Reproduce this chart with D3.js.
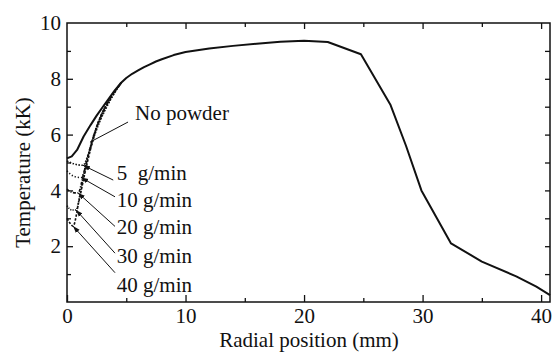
<!DOCTYPE html>
<html><head><meta charset="utf-8">
<script src="https://cdn.jsdelivr.net/npm/d3@7"></script>
<style>body{margin:0;background:#fff}svg{display:block}</style>
</head><body><svg id="c" width="552" height="352"></svg>
<script>
// ---- data ----
const noPowder = [[0,5.15],[0.4,5.22],[0.85,5.45],[1.4,5.93],[2,6.35],[2.5,6.68],[3,6.98],[3.5,7.27],[4,7.57],[4.5,7.83],[5,8.03],[5.5,8.18],[6,8.3],[6.5,8.42],[7,8.52],[7.5,8.62],[8,8.7],[9,8.85],[10,8.96],[12,9.09],[14,9.18],[16,9.26],[18,9.33],[20,9.36],[22,9.32],[24.8,8.88],[27.3,7.06],[28.6,5.6],[29.9,4.0],[32.4,2.1],[35,1.45],[37.9,0.92],[39.6,0.55],[40.75,0.25]];
const powder5  = [[0,5.05],[0.6,4.95],[1.35,4.9],[1.8,5.3],[2.3,5.95],[2.8,6.5],[3.3,6.95],[3.8,7.35],[4.6,7.87]];
const powder10 = [[0,4.7],[0.6,4.5],[1.2,4.46],[1.7,5.1],[2.2,5.85],[2.7,6.45],[3.2,6.9],[3.8,7.35],[4.6,7.87]];
const powder20 = [[0,4.05],[0.5,3.92],[0.93,3.91],[1.4,4.6],[1.9,5.45],[2.4,6.15],[2.9,6.7],[3.6,7.25],[4.6,7.87]];
const powder30 = [[0,3.45],[0.4,3.3],[0.76,3.3],[1.2,4.1],[1.7,5.1],[2.2,5.9],[2.8,6.6],[3.5,7.2],[4.6,7.87]];
const powder40 = [[0,3.0],[0.3,2.8],[0.51,2.72],[1.0,3.6],[1.5,4.6],[2.0,5.5],[2.6,6.4],[3.3,7.05],[4.6,7.87]];
const powderSeries = [powder5, powder10, powder20, powder30, powder40];
const powderLabels = ["5\u00a0\u00a0g/min","10 g/min","20 g/min","30 g/min","40 g/min"];
const arrowTips = [[1.35,4.9],[1.2,4.46],[0.93,3.91],[0.76,3.30],[0.51,2.72]];
const arrowTails = [[3.9,4.37],[4.05,3.77],[4.05,2.71],[4.05,1.75],[4.05,1.05]];
const labelPos = [[4.2,4.37],[4.2,3.4],[4.2,2.44],[4.2,1.4],[4.2,0.36]];
const xTicks = [0,10,20,30,40];
const yTicks = [2,4,6,8,10];
const xMinor = [5,15,25,35];
const yMinor = [1,3,5,7,9];
const yRightTicks = [1,2,3,4,5,6,7,8,9];

// ---- layout ----
const FONT = "'Liberation Serif', Tinos, 'Times New Roman', Times, 'DejaVu Serif', 'Noto Serif', serif";
const svg = d3.select("#c").style("font-family", FONT);
const L=67, R=550, T=23, B=302;
const x = d3.scaleLinear().domain([0,40.75]).range([L,R]);
const y = d3.scaleLinear().domain([0,10]).range([B,T]);

svg.append("defs").append("marker").attr("id","ah").attr("viewBox","0 0 10 10")
  .attr("refX",10).attr("refY",5).attr("markerWidth",7).attr("markerHeight",7)
  .attr("orient","auto").attr("markerUnits","userSpaceOnUse")
  .append("path").attr("d","M0,1.5L10,5L0,8.5Z").attr("fill","#111");

svg.append("rect").attr("x",L).attr("y",T).attr("width",R-L).attr("height",B-T)
  .attr("fill","none").attr("stroke","#111").attr("stroke-width",1.5);

const gx = svg.append("g").attr("transform",`translate(0,${B})`)
  .call(d3.axisBottom(x).tickValues(xTicks).tickSize(-7).tickPadding(6).tickFormat(d3.format("d")));
const gxm = svg.append("g").attr("transform",`translate(0,${B})`)
  .call(d3.axisBottom(x).tickValues(xMinor).tickSize(-4).tickFormat(""));
const gxt = svg.append("g").attr("transform",`translate(0,${T})`)
  .call(d3.axisTop(x).tickValues(xTicks.filter(d=>d>0)).tickSize(-6).tickFormat(""));
const gxtm = svg.append("g").attr("transform",`translate(0,${T})`)
  .call(d3.axisTop(x).tickValues(xMinor).tickSize(-4).tickFormat(""));
const gy = svg.append("g").attr("transform",`translate(${L},0)`)
  .call(d3.axisLeft(y).tickValues(yTicks).tickSize(-6).tickPadding(6).tickFormat(d3.format("d")));
const gym = svg.append("g").attr("transform",`translate(${L},0)`)
  .call(d3.axisLeft(y).tickValues(yMinor).tickSize(-4).tickFormat(""));
const gyr = svg.append("g").attr("transform",`translate(${R},0)`)
  .call(d3.axisRight(y).tickValues(yRightTicks).tickSize(-5).tickFormat(""));
[gx,gxm,gxt,gxtm,gy,gym,gyr].forEach(g=>{
  g.attr("font-family", FONT).attr("font-size",21);
  g.select(".domain").remove();
  g.selectAll(".tick line").attr("stroke","#111").attr("stroke-width",1.3);
  g.selectAll("text").attr("fill","#111");
});
gy.selectAll(".tick line").filter(d=>d===10).remove();

svg.append("text").attr("x",309).attr("y",347).attr("text-anchor","middle")
  .attr("font-size",21).attr("fill","#111").text("Radial position (mm)");
svg.append("text").attr("transform",`translate(30,${(T+B)/2 + 10}) rotate(-90)`)
  .attr("text-anchor","middle").attr("font-size",21).attr("fill","#111").text("Temperature (kK)");

const line = d3.line().x(d=>x(d[0])).y(d=>y(d[1]));
const smooth = d3.line().x(d=>x(d[0])).y(d=>y(d[1])).curve(d3.curveMonotoneX);
const dashes = ["1.5,1.5","1.2,2","3,1.5,1,1.5","1.2,1.2","2.5,1.5"];
powderSeries.forEach((s,i)=>{
  svg.append("path").datum(s).attr("d",smooth).attr("fill","none")
    .attr("stroke","#111").attr("stroke-width",1.6).attr("stroke-dasharray",dashes[i]);
});
svg.append("path").datum(noPowder).attr("d",line).attr("fill","none")
  .attr("stroke","#111").attr("stroke-width",2).attr("stroke-linejoin","round");

svg.append("line").attr("x1",x(5.15)).attr("y1",y(6.45)).attr("x2",x(1.94)).attr("y2",y(5.73))
  .attr("stroke","#111").attr("stroke-width",1);
svg.append("text").attr("x",x(5.74)).attr("y",y(6.52)).attr("font-size",21).attr("fill","#111").text("No powder");
powderLabels.forEach((lab,i)=>{
  svg.append("line").attr("x1",x(arrowTails[i][0])).attr("y1",y(arrowTails[i][1]))
    .attr("x2",x(arrowTips[i][0])).attr("y2",y(arrowTips[i][1]))
    .attr("stroke","#111").attr("stroke-width",1).attr("marker-end","url(#ah)");
  svg.append("text").attr("x",x(labelPos[i][0])).attr("y",y(labelPos[i][1]))
    .attr("font-size",21).attr("fill","#111").text(lab);
});
</script></body></html>
